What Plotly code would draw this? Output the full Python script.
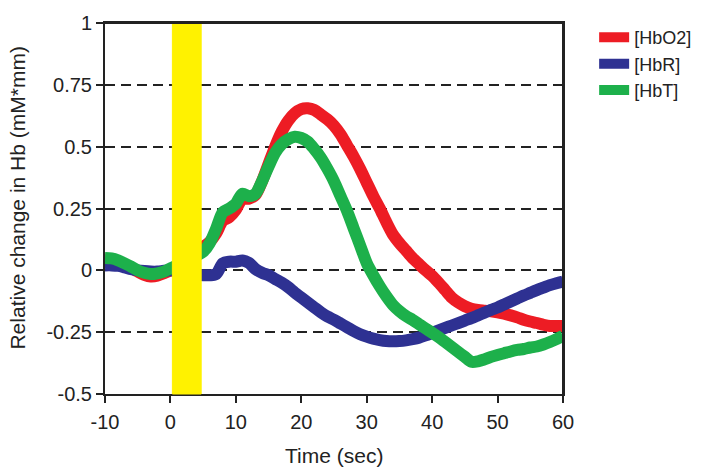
import plotly.graph_objects as go

time_sec = list(range(-10, 61))

hbo2 = [0.045, 0.042, 0.035, 0.022, 0.01, -0.005, -0.018, -0.025, -0.022, -0.012,
        0.0, 0.02, 0.04, 0.06, 0.08, 0.095, 0.115, 0.15, 0.2, 0.215,
        0.245, 0.29, 0.29, 0.305, 0.36, 0.43, 0.5, 0.56, 0.605, 0.635,
        0.652, 0.655, 0.648, 0.63, 0.61, 0.585, 0.55, 0.505, 0.46, 0.41,
        0.355, 0.3, 0.25, 0.195, 0.145, 0.11, 0.08, 0.05, 0.025, 0.0,
        -0.022, -0.05, -0.08, -0.11, -0.13, -0.145, -0.155, -0.16, -0.163, -0.166,
        -0.17, -0.175, -0.182, -0.19, -0.2, -0.207, -0.213, -0.22, -0.225, -0.225,
        -0.225]

hbr = [0.02, 0.02, 0.018, 0.012, 0.005, 0.0, -0.003, -0.005, -0.005, -0.002,
       0.0, -0.005, -0.01, -0.015, -0.018, -0.02, -0.02, -0.015, 0.028, 0.035,
       0.035, 0.04, 0.03, 0.005, -0.01, -0.02, -0.035, -0.05, -0.068, -0.09,
       -0.11, -0.13, -0.15, -0.17, -0.187, -0.2, -0.215, -0.23, -0.245, -0.258,
       -0.268, -0.276, -0.282, -0.286, -0.287, -0.286, -0.283, -0.278, -0.272, -0.263,
       -0.253, -0.243, -0.233, -0.223, -0.213, -0.203, -0.193, -0.182, -0.171, -0.16,
       -0.15, -0.138, -0.126, -0.114, -0.102, -0.091, -0.08, -0.07, -0.06, -0.052,
       -0.045]

hbt = [0.05, 0.048, 0.04, 0.028, 0.015, 0.0, -0.01, -0.015, -0.012, -0.005,
       0.008, 0.02, 0.035, 0.05, 0.06, 0.075, 0.11, 0.17, 0.235, 0.25,
       0.27, 0.31, 0.3, 0.31, 0.36, 0.42, 0.475, 0.51, 0.53, 0.54,
       0.535, 0.52, 0.49, 0.455, 0.41, 0.36, 0.3, 0.24, 0.17, 0.1,
       0.03, -0.02, -0.065, -0.105, -0.14, -0.165, -0.185, -0.2, -0.218, -0.235,
       -0.252, -0.27, -0.29, -0.31, -0.33, -0.35, -0.37, -0.368, -0.36, -0.35,
       -0.342, -0.335, -0.328, -0.322, -0.318, -0.312, -0.308, -0.3, -0.29, -0.278,
       -0.265]

series_names = ["[HbO2]", "[HbR]", "[HbT]"]
series_values = [hbo2, hbr, hbt]
series_colors = ["#ED1C24", "#2E3192", "#1DB04B"]

stim_start, stim_end = 0.3, 4.7

x_ticks = [-10, 0, 10, 20, 30, 40, 50, 60]
x_ticktext = ["-10", "0", "10", "20", "30", "40", "50", "60"]
y_ticks = [-0.5, -0.25, 0, 0.25, 0.5, 0.75, 1]
y_ticktext = ["-0.5", "-0.25", "0", "0.25", "0.5", "0.75", "1"]

x_title = "Time (sec)"
y_title = "Relative change in Hb (mM*mm)"

FONT = "Liberation Sans, Arial, sans-serif"
INK = "#222222"

fig = go.Figure()
for name, vals, col in zip(series_names, series_values, series_colors):
    fig.add_trace(go.Scatter(
        x=time_sec, y=vals, name=name, mode="lines",
        line=dict(color=col, width=12, shape="spline", smoothing=0.8),
    ))

# stimulus band (drawn over the curves, as in the original)
fig.add_shape(type="rect", xref="x", yref="paper", x0=stim_start, x1=stim_end,
              y0=0, y1=1, fillcolor="#FFF200", line=dict(color="#FFF200", width=1),
              layer="above")
# top and right edges of the frame
fig.add_shape(type="line", xref="paper", yref="paper", x0=0, x1=1, y0=1, y1=1,
              line=dict(color=INK, width=2), layer="above")
fig.add_shape(type="line", xref="paper", yref="paper", x0=1, x1=1, y0=0, y1=1,
              line=dict(color=INK, width=2), layer="above")

# axis titles
fig.add_annotation(text=x_title, xref="paper", yref="paper", x=0.5, y=-0.165,
                   xanchor="center", yanchor="middle", showarrow=False,
                   font=dict(family=FONT, size=21, color=INK))
fig.add_annotation(text=y_title, xref="paper", yref="paper", x=-0.192, y=0.527,
                   xanchor="center", yanchor="middle", showarrow=False, textangle=-90,
                   font=dict(family=FONT, size=21, color=INK))

fig.update_layout(
    width=724, height=475,
    margin=dict(l=105, r=161, t=13, b=81),
    paper_bgcolor="white", plot_bgcolor="white",
    font=dict(family=FONT, size=20, color=INK),
    showlegend=True,
    legend=dict(x=1.068, y=1.0105, xanchor="left", yanchor="top",
                font=dict(family=FONT, size=18, color=INK),
                bgcolor="rgba(0,0,0,0)", tracegroupgap=0),
    xaxis=dict(range=[-10, 60], tickvals=x_ticks, ticktext=x_ticktext,
               ticks="outside", ticklen=7,
               tickwidth=2, tickcolor=INK, showline=True, linewidth=2,
               linecolor=INK, mirror=True, showgrid=False, zeroline=False,
               ticklabelstandoff=2),
    yaxis=dict(range=[-0.5, 1], tickvals=y_ticks, ticktext=y_ticktext,
               ticks="outside", ticklen=7, tickwidth=2, tickcolor=INK,
               showline=True, linewidth=2, linecolor=INK, mirror=True,
               showgrid=True, gridcolor=INK, gridwidth=2, griddash="10px,6px",
               zeroline=False),
)

fig.write_html("out.html", config={"displayModeBar": False},
               post_script="document.body.style.margin='0';")
